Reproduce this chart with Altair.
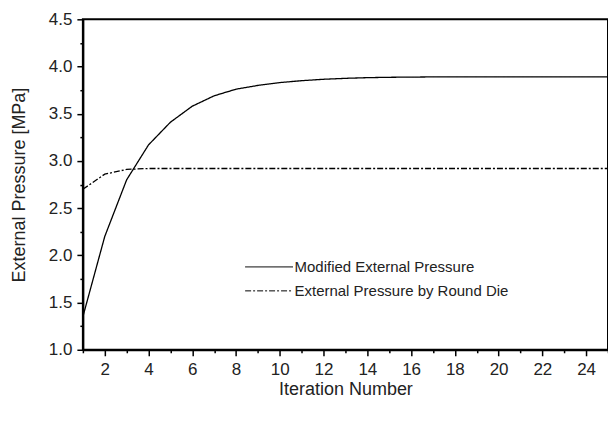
import altair as alt
import pandas as pd

iterations = list(range(1, 26))
modified = [1.35, 2.20, 2.80, 3.17, 3.41, 3.58, 3.69, 3.76, 3.80, 3.83, 3.85, 3.865,
            3.875, 3.882, 3.886, 3.888, 3.89, 3.89, 3.89, 3.89, 3.89, 3.89, 3.89, 3.89, 3.89]
round_die = [2.70, 2.86, 2.91, 2.92, 2.92, 2.92, 2.92, 2.92, 2.92, 2.92, 2.92, 2.92,
             2.92, 2.92, 2.92, 2.92, 2.92, 2.92, 2.92, 2.92, 2.92, 2.92, 2.92, 2.92, 2.92]
series_names = ["Modified External Pressure", "External Pressure by Round Die"]

rows = []
for i, it in enumerate(iterations):
    rows.append({"it": it, "p": modified[i], "s": series_names[0]})
    rows.append({"it": it, "p": round_die[i], "s": series_names[1]})
df = pd.DataFrame(rows)

x_vals = list(range(1, 26))
y_vals = [1.0 + 0.25 * k for k in range(15)]

chart = alt.Chart(df).mark_line(color="black", strokeWidth=1.3).encode(
    x=alt.X("it:Q", scale=alt.Scale(domain=[1, 25], nice=False, zero=False),
            axis=alt.Axis(title="Iteration Number", values=x_vals,
                          labelExpr="datum.value % 2 == 0 ? datum.label : ''",
                          tickSize={"condition": {"test": "datum.value % 2 == 0", "value": 6}, "value": 3},
                          grid=False, domainColor="black", tickColor="black", tickWidth=1.5,
                          domainWidth=2, labelPadding=6, titlePadding=3)),
    y=alt.Y("p:Q", scale=alt.Scale(domain=[1.0, 4.5], nice=False, zero=False),
            axis=alt.Axis(title="External Pressure [MPa]", values=y_vals, format=".1f",
                          labelExpr="round(datum.value*100) % 50 == 0 ? datum.label : ''",
                          tickSize={"condition": {"test": "round(datum.value*100) % 50 == 0", "value": 6}, "value": 3},
                          grid=False, domainColor="black", tickColor="black", tickWidth=1.5,
                          domainWidth=2, labelPadding=5, titlePadding=20)),
    strokeDash=alt.StrokeDash("s:N", sort=series_names,
                              scale=alt.Scale(domain=series_names, range=[[1, 0], [6, 2, 2, 2]]),
                              legend=alt.Legend(title=None, orient="none", legendX=162, legendY=239,
                                                symbolType="stroke", symbolSize=2300,
                                                symbolStrokeColor="black", symbolStrokeWidth=1,
                                                clipHeight=18, rowPadding=6, labelOffset=1,
                                                labelFontSize=15, labelColor="#222",
                                                labelFont="Liberation Sans", labelLimit=400)),
).properties(
    width=526, height=331,
    padding={"left": 75, "top": 11, "right": 0, "bottom": 65},
    autosize=alt.AutoSizeParams(type="none"),
    background="white",
).configure_view(
    stroke="black", strokeWidth=2
).configure_axis(
    labelFont="Liberation Sans", titleFont="Liberation Sans",
    labelFontSize=17, titleFontSize=18, labelColor="#222", titleColor="#222",
    titleFontWeight="normal"
)

chart.save("out.html", embed_options={"renderer": "svg", "actions": False})
